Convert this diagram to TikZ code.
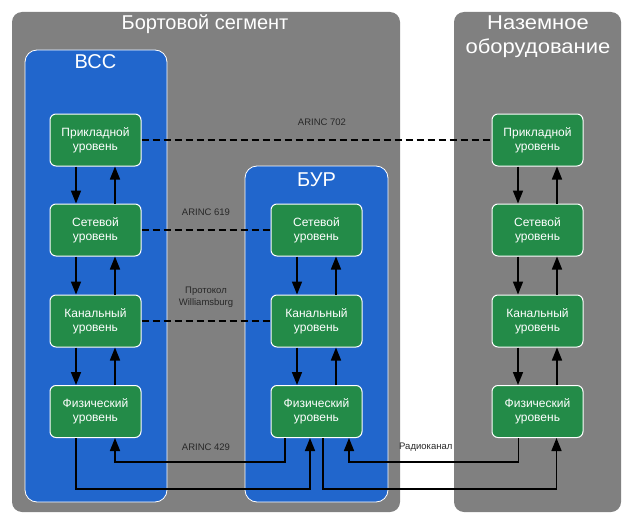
\documentclass[tikz,border=0pt]{standalone}
\usepackage{fontspec}
\setmainfont{Liberation Sans}
\usetikzlibrary{arrows.meta,calc}
\definecolor{grayseg}{RGB}{128,128,128}
\definecolor{bluebox}{RGB}{33,102,204}
\definecolor{greenbox}{RGB}{35,139,72}
\definecolor{labelc}{RGB}{40,40,40}
\tikzset{
  segbox/.style={fill=grayseg, rounded corners=10pt, draw=none},
  unitbox/.style={fill=bluebox, draw=white, line width=0.8pt, rounded corners=12pt},
  layerbox/.style={fill=greenbox, draw=white, line width=1pt, rounded corners=6pt,
    minimum width=91pt, minimum height=52pt, inner sep=0pt, align=center,
    text=white, font=\fontsize{12}{14}\selectfont},
  titletext/.style={text=white, font=\fontsize{20}{24}\selectfont, align=center, inner sep=0pt},
  lbl/.style={text=labelc, font=\fontsize{9.5}{11.5}\selectfont, align=center, inner sep=0pt},
  arr/.style={-{Triangle[width=10pt,length=13pt]}, line width=1.6pt, black},
  dashconn/.style={line width=1.7pt, black, dash pattern=on 7pt off 4pt},
}
\begin{document}
\begin{tikzpicture}[x=1pt,y=-1pt]
\useasboundingbox (0,0) rectangle (624,519);
% segments
\path[segbox] (12,12) rectangle (400,512);
\path[segbox] (454,12) rectangle (621,512);
\node[titletext] (tb) at (205,24) {Бортовой сегмент};
\node[titletext, xscale=1.1] (tg) at (538,37) {Наземное\\оборудование};
% units
\draw[unitbox] (25,50) rectangle (167,502);
\draw[unitbox] (245,166) rectangle (388,502);
\node[titletext] (tv) at (95.5,62) {ВСС};
\node[titletext] (tu) at (316.5,180) {БУР};
% layers
\node[layerbox] (vapp) at (95.5,140) {Прикладной\\уровень};
\node[layerbox] (vnet) at (95.5,230) {Сетевой\\уровень};
\node[layerbox] (vlnk) at (95.5,321) {Канальный\\уровень};
\node[layerbox] (vphy) at (95.5,411.5) {Физический\\уровень};
\node[layerbox] (bnet) at (316.5,230) {Сетевой\\уровень};
\node[layerbox] (blnk) at (316.5,321) {Канальный\\уровень};
\node[layerbox] (bphy) at (316.5,411.5) {Физический\\уровень};
\node[layerbox] (gapp) at (537.5,140) {Прикладной\\уровень};
\node[layerbox] (gnet) at (537.5,230) {Сетевой\\уровень};
\node[layerbox] (glnk) at (537.5,321) {Канальный\\уровень};
\node[layerbox] (gphy) at (537.5,411.5) {Физический\\уровень};
% vertical arrows
\foreach \a/\b in {vapp/vnet,vnet/vlnk,vlnk/vphy,bnet/blnk,blnk/bphy,gapp/gnet,gnet/glnk,glnk/gphy}{
  \draw[arr] ([xshift=-19.5pt]\a.south) -- ([xshift=-19.5pt]\b.north);
  \draw[arr] ([xshift=19.5pt]\b.north) -- ([xshift=19.5pt]\a.south);
}
% dashed peer links
\draw[dashconn] (vapp.east) -- (gapp.west);
\draw[dashconn] (vnet.east) -- (bnet.west);
\draw[dashconn] (vlnk.east) -- (blnk.west);
% labels
\node[lbl] (l702) at (322,122) {ARINC 702};
\node[lbl] (l619) at (206,212) {ARINC 619};
\node[lbl] (lwil) at (206,297) {Протокол\\Williamsburg};
\node[lbl] (l429) at (206,447) {ARINC 429};
\node[lbl, anchor=west] (lrad) at (399,447) {Радиоканал};
% bottom physical links
\coordinate (ylow) at (0,489);
\coordinate (yhigh) at (0,462);
\draw[arr] ([xshift=-19.5pt]vphy.south) -- ([xshift=-19.5pt]vphy.south |- ylow) -| ([xshift=-6.5pt]bphy.south);
\draw[arr] ([xshift=-31.5pt]bphy.south) -- ([xshift=-31.5pt]bphy.south |- yhigh) -| ([xshift=19.5pt]vphy.south);
\draw[arr] ([xshift=6.5pt]bphy.south) -- ([xshift=6.5pt]bphy.south |- ylow) -| ([xshift=19pt]gphy.south);
\draw[arr] ([xshift=-19pt]gphy.south) -- ([xshift=-19pt]gphy.south |- yhigh) -| ([xshift=32.5pt]bphy.south);
\end{tikzpicture}
\end{document}
